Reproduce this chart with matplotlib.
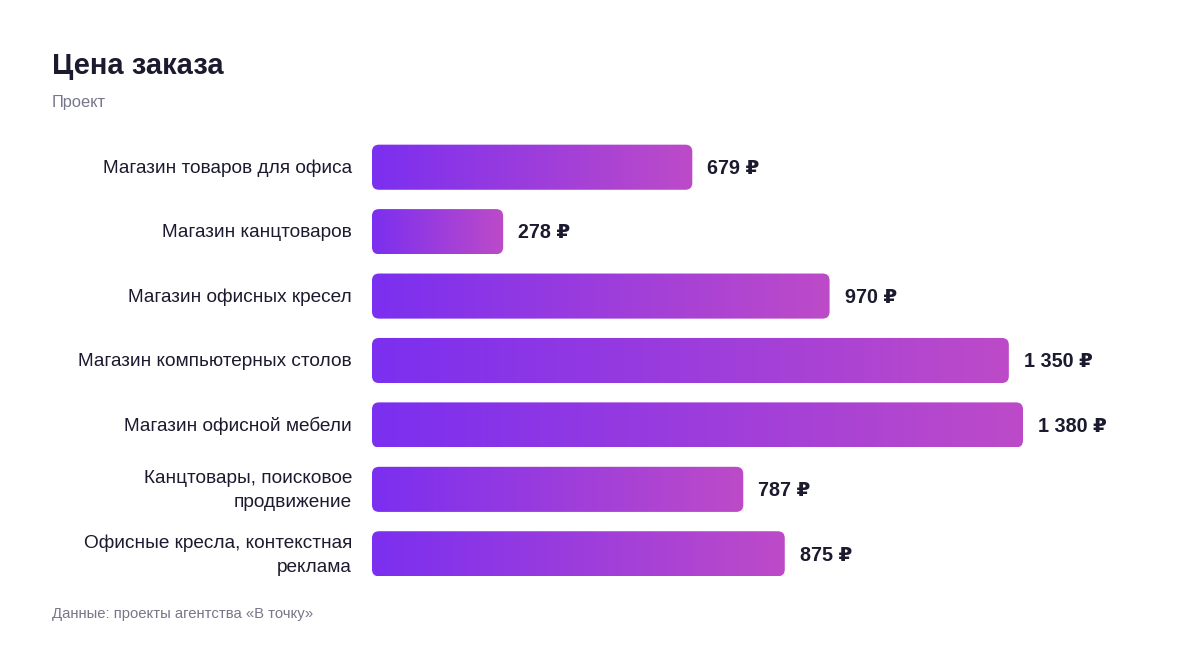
import matplotlib
matplotlib.use("Agg")
import matplotlib.pyplot as plt
import numpy as np
from matplotlib.colors import LinearSegmentedColormap
from matplotlib.patches import FancyBboxPatch

# Data
categories = [
    "Магазин товаров для офиса",
    "Магазин канцтоваров",
    "Магазин офисных кресел",
    "Магазин компьютерных столов",
    "Магазин офисной мебели",
    "Канцтовары, поисковое\nпродвижение",
    "Офисные кресла, контекстная\nреклама",
]
prices = [679, 278, 970, 1350, 1380, 787, 875]

title = "Цена заказа"
subtitle = "Проект"
source = "Данные: проекты агентства «В точку»"

FONT = ["Liberation Sans", "DejaVu Sans"]
DARK = "#1b1a2e"
GREY = "#77778a"
cmap = LinearSegmentedColormap.from_list("bar", ["#7b2ff0", "#bd4bc8"])

W, H = 1200, 648
fig = plt.figure(figsize=(W / 100, H / 100), dpi=100)

# axes in pixel coordinates
ax_left, ax_right = 372, 1100
ax_top, ax_bottom = 135, 586
ax = fig.add_axes([ax_left / W, 1 - ax_bottom / H,
                   (ax_right - ax_left) / W, (ax_bottom - ax_top) / H])

px_per_unit = (1023 - 372) / 1380
xmax = (ax_right - ax_left) / px_per_unit
n = len(categories)
bar_h = 0.70
ax.set_xlim(0, xmax)
ax.set_ylim(n - 0.5, -0.5)

# rounding: ~7 px in both directions
row_px = (ax_bottom - ax_top) / n
r_x = 7 / px_per_unit
r_y = 7 / row_px
grad = np.linspace(0, 1, 256).reshape(1, -1)

for i, v in enumerate(prices):
    patch = FancyBboxPatch((0, i - bar_h / 2), v, bar_h,
                           boxstyle=f"round,pad=0,rounding_size={r_x}",
                           mutation_aspect=r_y / r_x,
                           facecolor="none", edgecolor="none")
    ax.add_patch(patch)
    im = ax.imshow(grad, cmap=cmap, aspect="auto",
                   extent=(0, v, i + bar_h / 2, i - bar_h / 2))
    im.set_clip_path(patch)
    label = f"{v:,}".replace(",", " ") + " ₽"
    ax.text(v + 15 / px_per_unit, i + 0.02, label, va="center", ha="left",
            fontsize=14.2, fontweight="bold", color=DARK, family=FONT)
    ax.text(-20 / px_per_unit, i + 0.02, categories[i], va="center", ha="right",
            fontsize=13.7, color=DARK, family=FONT, linespacing=1.55)

ax.set_xlim(0, xmax)
ax.set_ylim(n - 0.5, -0.5)
ax.axis("off")

fig.text(52 / W, 1 - 66 / H, title, fontsize=21, fontweight="bold",
         color=DARK, family=FONT, va="center")
fig.text(52 / W, 1 - 102 / H, subtitle, fontsize=11.8, color=GREY,
         family=FONT, va="center")
fig.text(52 / W, 1 - 614 / H, source, fontsize=10.7, color=GREY,
         family=FONT, va="center")

fig.savefig("out.png", dpi=100, facecolor="white")
